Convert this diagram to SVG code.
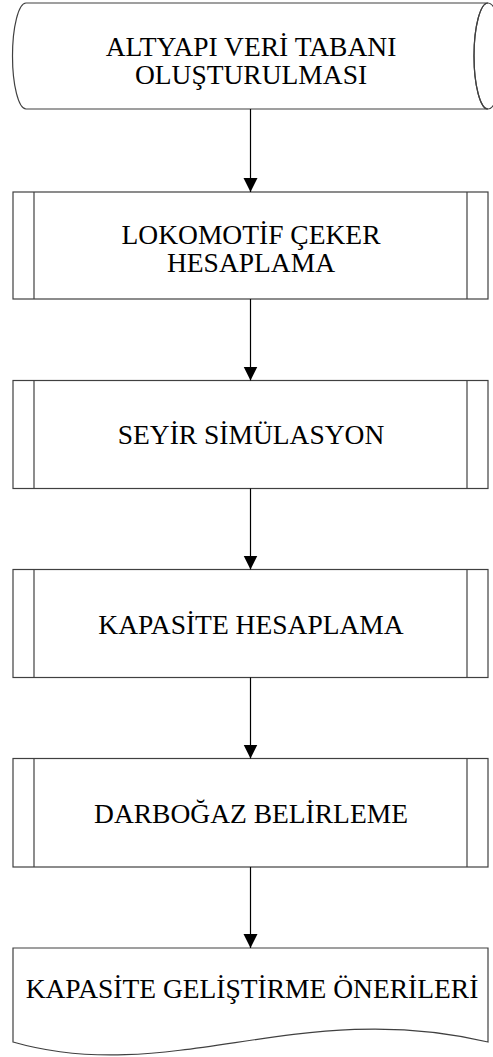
<svg xmlns="http://www.w3.org/2000/svg" width="493" height="1057" viewBox="0 0 493 1057">
<style>
.shape{fill:#ffffff;stroke:#404040;stroke-width:1.2}
.conn{stroke:#000000;stroke-width:1.2;fill:none}
.lbl{font-family:"Liberation Serif","Times New Roman",serif;font-size:27.5px;fill:#000000;text-anchor:middle}
</style>
<defs>
<marker id="arr" markerUnits="userSpaceOnUse" markerWidth="14" markerHeight="16" refX="14" refY="7" orient="auto">
<path d="M0,0 L14,7 L0,14 Z" fill="#000000"/>
</marker>
</defs>
<rect width="493" height="1057" fill="#ffffff"/>
<g id="node1">
<path class="shape" d="M26,3 L488,3 A14,53 0 0 0 488,109 L26,109 A13.5,53 0 0 1 26,3 Z"/>
<ellipse cx="488" cy="56" rx="14" ry="53" fill="none" stroke="#404040" stroke-width="1.2"/>
<text class="lbl" x="251" y="56">ALTYAPI VERİ TABANI</text>
<text class="lbl" x="251" y="84">OLUŞTURULMASI</text>
</g>
<g id="node2">
<rect class="shape" x="13" y="192" width="475" height="107"/>
<line class="shape" x1="34" y1="192" x2="34" y2="299"/>
<line class="shape" x1="467" y1="192" x2="467" y2="299"/>
<text class="lbl" x="251" y="244">LOKOMOTİF ÇEKER</text>
<text class="lbl" x="251" y="272">HESAPLAMA</text>
</g>
<g id="node3">
<rect class="shape" x="13" y="380.5" width="475" height="108"/>
<line class="shape" x1="34" y1="380.5" x2="34" y2="488.5"/>
<line class="shape" x1="467" y1="380.5" x2="467" y2="488.5"/>
<text class="lbl" x="251" y="444">SEYİR SİMÜLASYON</text>
</g>
<g id="node4">
<rect class="shape" x="13" y="569.5" width="475" height="108"/>
<line class="shape" x1="34" y1="569.5" x2="34" y2="677.5"/>
<line class="shape" x1="467" y1="569.5" x2="467" y2="677.5"/>
<text class="lbl" x="251" y="634">KAPASİTE HESAPLAMA</text>
</g>
<g id="node5">
<rect class="shape" x="13" y="758.5" width="475" height="108.5"/>
<line class="shape" x1="34" y1="758.5" x2="34" y2="867"/>
<line class="shape" x1="467" y1="758.5" x2="467" y2="867"/>
<text class="lbl" x="251" y="823">DARBOĞAZ BELİRLEME</text>
</g>
<g id="node6">
<path class="shape" d="M13,948 L488,948 L488,1042 C300,997 170,1087 13,1042 Z"/>
<text class="lbl" x="252" y="998">KAPASİTE GELİŞTİRME ÖNERİLERİ</text>
</g>
<g id="connectors">
<line class="conn" x1="250.5" y1="109" x2="250.5" y2="192" marker-end="url(#arr)"/>
<line class="conn" x1="250.5" y1="299" x2="250.5" y2="380.5" marker-end="url(#arr)"/>
<line class="conn" x1="250.5" y1="488.5" x2="250.5" y2="569.5" marker-end="url(#arr)"/>
<line class="conn" x1="250.5" y1="677.5" x2="250.5" y2="758.5" marker-end="url(#arr)"/>
<line class="conn" x1="250.5" y1="867" x2="250.5" y2="948" marker-end="url(#arr)"/>
</g>
</svg>
